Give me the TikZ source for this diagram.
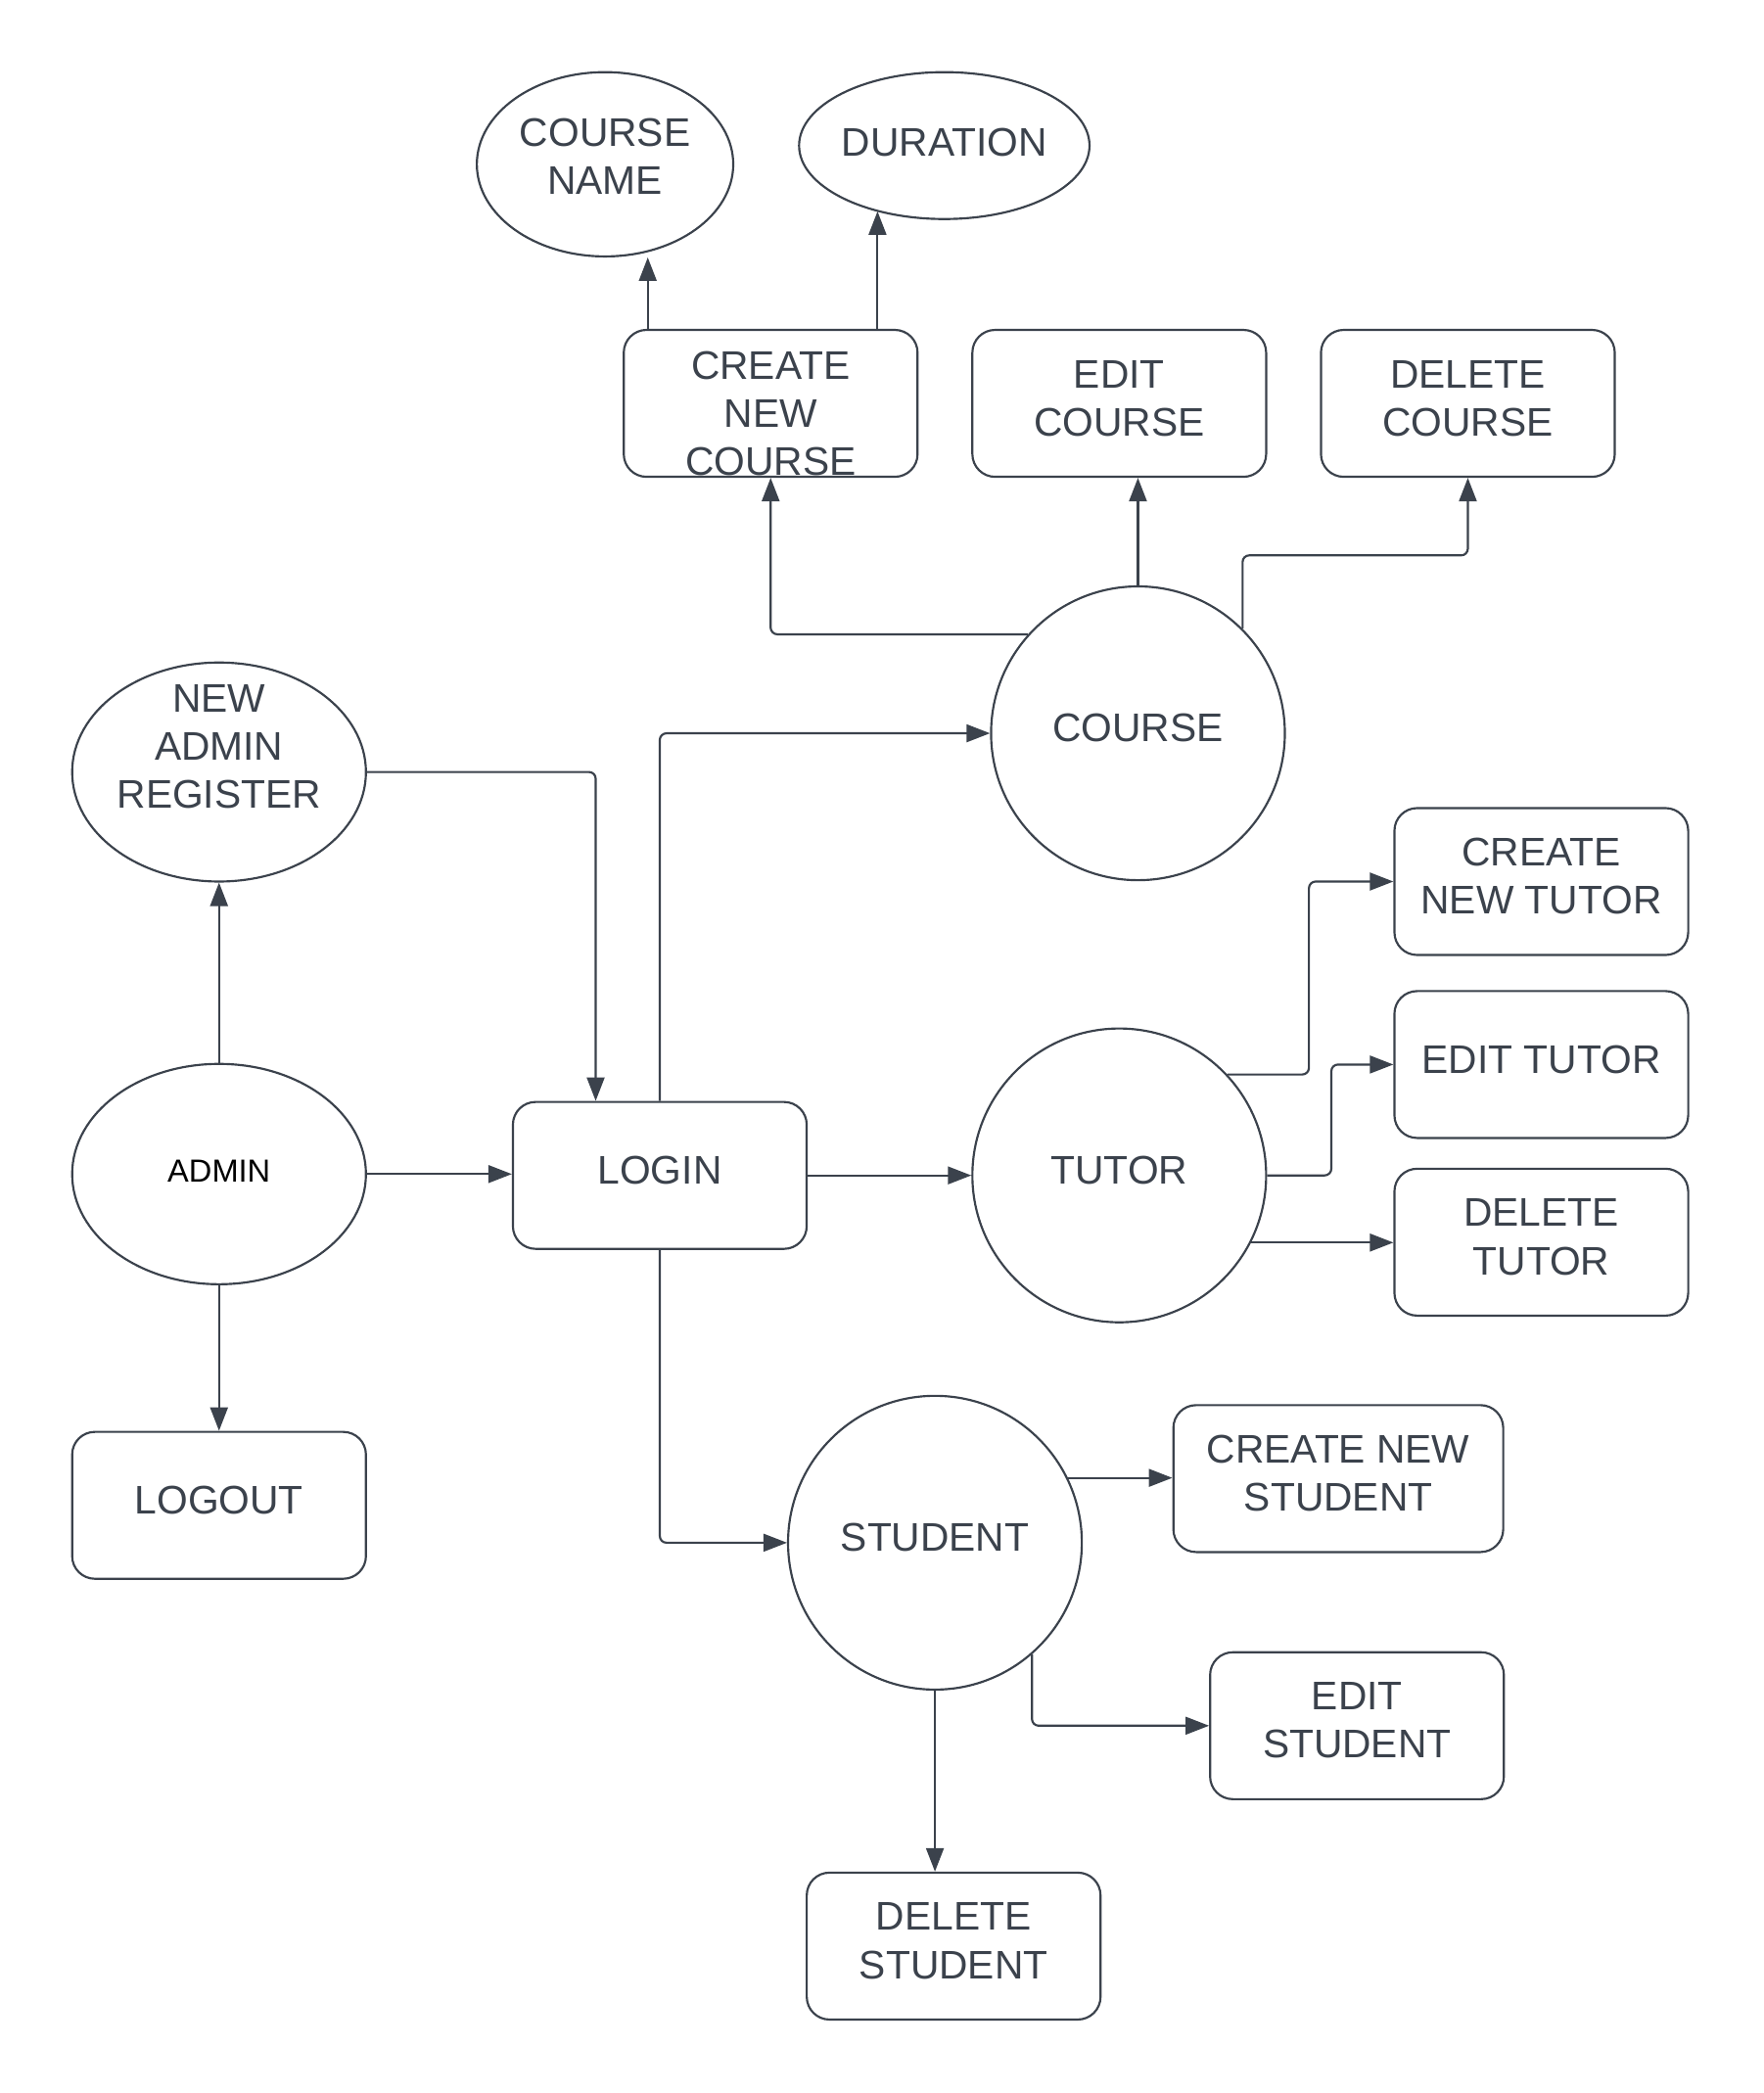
\documentclass[tikz,border=0pt]{standalone}
\usepackage{fontspec}
\setmainfont{Liberation Sans}
\usetikzlibrary{arrows.meta}
\usetikzlibrary{shapes.geometric}
\usetikzlibrary{calc}
\definecolor{ink}{HTML}{3B424C}

\begin{document}
\begin{tikzpicture}[x=0.02cm, y=-0.02cm,
	every node/.style={font=\fontsize{17}{20.5}\selectfont, text=ink, align=center, inner sep=0pt, text depth=0.16cm},
	box/.style={draw=ink, line width=0.9pt, rounded corners=0.34cm, minimum width=4.4cm, minimum height=2.2cm},
	proc/.style={draw=ink, line width=0.9pt, circle, minimum size=4.4cm},
	attr/.style={draw=ink, line width=0.9pt, ellipse},
	arr/.style={draw=ink, line width=0.9pt, rounded corners=0.1cm, -{Triangle[length=10pt,width=7.5pt]}}]
		\useasboundingbox (0,0) rectangle (1320,1567);
		\node[attr, minimum width=3.84cm, minimum height=2.76cm, text depth=0.24cm] (cname) at (453,123) {COURSE\\NAME};
		\node[attr, minimum width=4.12cm, minimum height=2.2cm, text depth=0.1cm] (dur) at (707,109) {DURATION};
		\node[box, text height=2.16cm, text depth=0cm] (ccourse) at (577,302) {CREATE\\NEW\\COURSE};
		\node[box] (ecourse) at (838,302) {EDIT\\COURSE};
		\node[box] (dcourse) at (1099,302) {DELETE\\COURSE};
		\node[proc] (course) at (852,549) {COURSE};
		\node[attr, minimum width=4.4cm, minimum height=3.28cm, text height=1.6cm, text depth=0.52cm] (reg) at (164,578) {NEW\\ADMIN\\REGISTER};
		\node[attr, minimum width=4.4cm, minimum height=3.3cm, text=black, font=\fontsize{13.6}{16}\selectfont, text depth=0.1cm] (admin) at (164,879) {ADMIN};
		\node[box] (logout) at (164,1127) {LOGOUT};
		\node[box] (login) at (494,880) {LOGIN};
		\node[proc] (tutor) at (838,880) {TUTOR};
		\node[box] (ctutor) at (1154,660) {CREATE\\NEW TUTOR};
		\node[box] (etutor) at (1154,797) {EDIT TUTOR};
		\node[box] (dtutor) at (1154,930) {DELETE\\TUTOR};
		\node[proc] (student) at (700,1155) {STUDENT};
		\node[box, minimum width=4.94cm] (cstudent) at (1002,1107) {CREATE NEW\\STUDENT};
		\node[box] (estudent) at (1016,1292) {EDIT\\STUDENT};
		\node[box] (dstudent) at (714,1457) {DELETE\\STUDENT};

		\coordinate (cnfoot) at ($(ccourse.north)+(-92,0)$);
		\coordinate (dufoot) at ($(ccourse.north)+(80,0)$);
		\draw[arr] (cnfoot) -- (cnfoot |- cname.south);
		\draw[arr] (dufoot) -- ($(dufoot)+(0,-88)$);
		\draw[arr] (course.138) -| (ccourse.south);
		\draw[arr] (course.north) -- (course.north |- ecourse.south);
		\draw[arr] (course.45) |- ($(dcourse.south)+(0,58)$) -- (dcourse.south);
		\draw[arr] (admin.north) -- (reg.south);
		\draw[arr] (admin.south) -- (logout.north);
		\draw[arr] (admin.east) -- (admin.east -| login.west);
		\draw[arr] (reg.east) -| ($(login.north)+(-48,0)$);
		\draw[arr] (login.north) |- (course.west);
		\draw[arr] (login.east) -- (tutor.west);
		\draw[arr] (login.south) |- (student.west);
		\draw[arr] (tutor.43) -- ++(61,0) |- (ctutor.west);
		\draw[arr] (tutor.east) -- ++(48,0) |- (etutor.west);
		\draw[arr] (tutor.-27) -- (tutor.-27 -| dtutor.west);
		\draw[arr] (student.26) -- (student.26 -| cstudent.west);
		\draw[arr] (student.-49) |- (estudent.west);
		\draw[arr] (student.south) -- (student.south |- dstudent.north);
	    \end{tikzpicture}
\end{document}
